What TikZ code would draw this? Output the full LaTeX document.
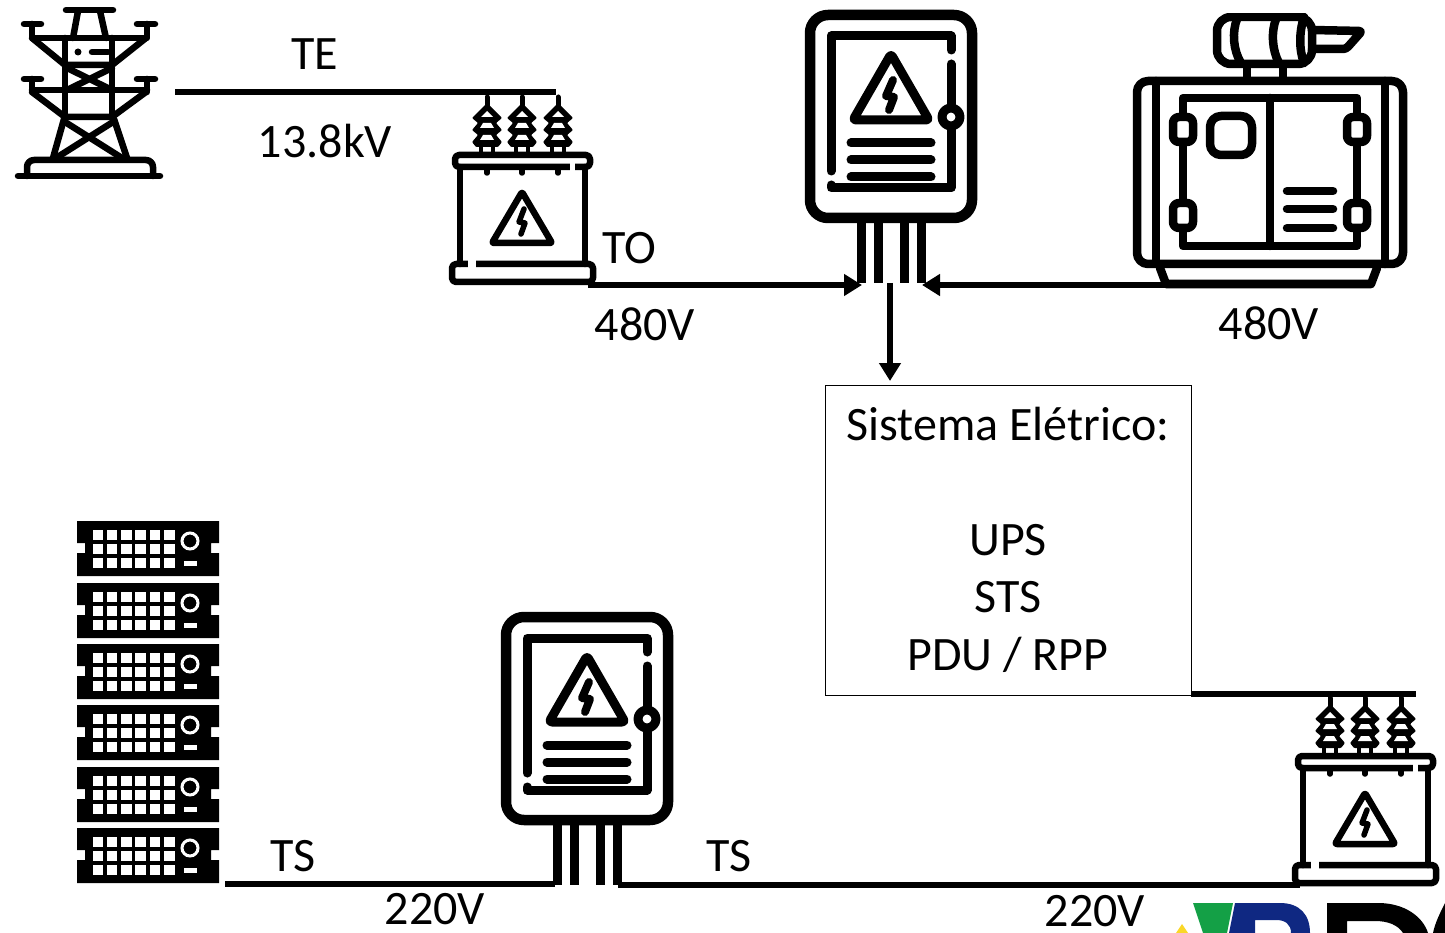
\documentclass[tikz,border=0pt]{standalone}
\usepackage{fontspec}
\setmainfont{Carlito}
\usetikzlibrary{arrows.meta}
\definecolor{logogreen}{RGB}{20,160,70}
\definecolor{logoblue}{RGB}{15,40,130}
\definecolor{logoyellow}{RGB}{250,215,40}
\tikzset{
  x=1pt,y=-1pt,
  lbl/.style={font=\fontsize{48}{56}\selectfont,inner sep=0pt,text=black},
  wire/.style={line width=6.5pt,draw=black},
  arrowwire/.style={line width=6.5pt,draw=black,-{Stealth[length=18pt,width=21pt,inset=0pt]}},
  ink/.style={line width=9pt,draw=black,line cap=round,line join=round},
  thin ink/.style={line width=6.5pt,draw=black,line cap=round,line join=round},
  mid ink/.style={line width=8.5pt,draw=black,line cap=round,line join=round},
  panelicon/.pic={
    \draw[ink,line width=10.5pt,rounded corners=18pt] (810,15) rectangle (972,218);
    \draw[ink] (951,50) -- (951,36) -- (831,36) -- (831,171);
    \draw[ink] (831,185) -- (831,188) -- (951,188) -- (951,64);
    \draw[ink,rounded corners=3pt] (891,54) -- (929,120) -- (853,120) -- cycle;
    \draw[ink,line width=8pt] (893,80) -- (886,96) -- (894,97) -- (889,110);
    \foreach \yy in {143,160,177} \draw[ink] (851,\yy) -- (931,\yy);
    \draw[ink,fill=white] (951,117) circle (9);
    \foreach \xx in {861,878,904,921} \draw[line width=9pt] (\xx,220) -- (\xx,283);
  },
  insulator/.pic={
    \draw[line width=5pt,line cap=round] (0,0) -- (0,12);
    \fill[black,rounded corners=1pt] (0,6) -- (15,21) -- (9,26) -- (15,33) -- (9,38) -- (15,45) -- (11,50) -- (-11,50) -- (-15,45) -- (-9,38) -- (-15,33) -- (-9,26) -- (-15,21) -- cycle;
    \fill[white] (0,14) -- (6,20) -- (-6,20) -- cycle;
    \fill[white] (-4,26) -- (4,26) -- (7,31) -- (-7,31) -- cycle;
    \fill[white] (-4,38) -- (4,38) -- (7,43) -- (-7,43) -- cycle;
    \draw[line width=4.5pt] (-6,49) -- (-6,58) (6,49) -- (6,58);
  },
  xformer/.pic={
    \foreach \xx in {487,522,558} \pic at (\xx,97) {insulator};
    \draw[thin ink,rounded corners=4pt] (455,155) rectangle (590,167);
    \draw[draw=white,line width=8pt] (570,167) -- (575,167);
    \foreach \xx in {487,522,558} \draw[thin ink,line width=5.5pt] (\xx,167) -- (\xx,173);
    \draw[thin ink] (460,167) -- (460,264) (585,167) -- (585,264);
    \draw[thin ink,rounded corners=4pt] (452,264) rectangle (593,282);
    \draw[draw=white,line width=8pt] (468,264) -- (476,264);
    \draw[thin ink,rounded corners=2pt] (522,192) -- (552,243) -- (492,243) -- cycle;
    \draw[thin ink,line width=5.5pt] (524,209) -- (519,222) -- (525,223) -- (521,234);
  },
  rackunit/.pic={
    \fill[black] (77,0) -- (219,0) -- (219,22) -- (211,22) -- (211,32) -- (219,32) -- (219,55) -- (77,55) -- (77,32) -- (85,32) -- (85,22) -- (77,22) -- cycle;
    \foreach \cc in {0,...,5} \foreach \rr in {9,23,37}
      \fill[white] ({92.5+14.3*\cc},\rr) rectangle ++(10.5,9.5);
    \draw[white,line width=3pt] (190,20) circle (8);
    \fill[white] (184,40) rectangle (197,45);
  }
}
\begin{document}
\begin{tikzpicture}
\useasboundingbox (0,0) rectangle (1445,933);
\fill[white] (0,0) rectangle (1445,933);
\clip (0,0) rectangle (1445,933);

% tower
\begin{scope}[thin ink]
  \draw (66,10) -- (113,10);
  \draw (78,11) -- (73,38) (100,11) -- (106,38);
  \draw (24,24) -- (41,24) (32,24) -- (32,38) -- (147,38) -- (147,24) (137,24) -- (155,24);
  \draw (32,38) -- (65,65) -- (112,65) -- (146,38);
  \draw (65,38) -- (65,118) (112,38) -- (112,118);
  \draw (67,68) -- (112,90) (112,68) -- (67,90);
  \draw (24,79) -- (41,79) (32,79) -- (32,92) (147,79) -- (147,92) (137,79) -- (155,79);
  \draw (32,90) -- (147,90);
  \draw (32,92) -- (65,117) -- (112,117) -- (146,92);
  \draw (64,119) -- (53,158) (114,119) -- (127,158);
  \draw (65,122) -- (122,158) (113,122) -- (56,158);
  \draw (92,52) -- (108,52);
  \fill (78,52) circle (3.5);
  \draw[rounded corners=7pt] (27,176) -- (27,160) -- (153,160) -- (153,176);
  \draw (18,176) -- (160,176);
\end{scope}

% transformers
\pic {xformer};
\begin{scope}[shift={(843,601)}] \pic {xformer}; \end{scope}

% panels
\pic {panelicon};
\begin{scope}[shift={(-304,602)}] \pic {panelicon}; \end{scope}

% generator
\begin{scope}[mid ink]
  \draw[rounded corners=11pt] (1137,81) rectangle (1403,264);
  \draw (1156,81) -- (1156,264) (1385,81) -- (1385,264);
  \draw (1183,98) rectangle (1357,246);
  \draw (1270,98) -- (1270,246);
  \draw[fill=white,rounded corners=6pt] (1173,117) rectangle (1193,142);
  \draw[fill=white,rounded corners=6pt] (1347,117) rectangle (1367,142);
  \draw[fill=white,rounded corners=6pt] (1173,203) rectangle (1193,228);
  \draw[fill=white,rounded corners=6pt] (1347,203) rectangle (1367,228);
  \draw[rounded corners=11pt] (1210,116) rectangle (1252,155);
  \foreach \yy in {191,209,228} \draw (1287,\yy) -- (1333,\yy);
  \draw (1160,268) -- (1166,284) -- (1371,284) -- (1377,268);
  \draw[rounded corners=14pt] (1217,17) rectangle (1312,64);
  \draw (1237,19) .. controls (1232,32) and (1233,50) .. (1241,63);
  \draw (1276,19) .. controls (1271,32) and (1272,50) .. (1279,63);
  \draw (1304,17) .. controls (1299,32) and (1299,50) .. (1304,63);
  \draw[rounded corners=3pt] (1312,30) -- (1362,31) -- (1346,49) -- (1312,49);
  \draw (1247,67) -- (1247,78) (1283,67) -- (1283,78);
\end{scope}
\fill[white] (1190,0) rectangle (1340,13);

% servers
\foreach \yy in {521,583,644,705,767,828}
  \pic at (0,\yy) {rackunit};

% box
\node[draw=black,line width=1pt,minimum width=366pt,minimum height=310pt,inner sep=0pt] (sys) at (1008,540) {};
\node[lbl] (sysa) at (1008,424) {Sistema Elétrico:};
\node[lbl] (sysb) at (1008,540) {UPS};
\node[lbl] (sysc) at (1008,597) {STS};
\node[lbl] (sysd) at (1008,655) {PDU / RPP};

% connection points
\coordinate (teA) at (175,92);
\coordinate (teB) at (556,92);
\coordinate (toA) at (588,285);
\coordinate (pnlL) at (862,285);
\coordinate (genA) at (1170,285);
\coordinate (pnlR) at (922,285);
\coordinate (pnlD) at (890,283);
\coordinate (sysT) at (890,381);
\coordinate (sysR) at (1191,694);
\coordinate (xfB) at (1416,694);
\coordinate (srvA) at (225,884);
\coordinate (pnlB) at (555,884);
\coordinate (pnlC) at (618,885);
\coordinate (xfC) at (1300,885);

\draw[wire] (teA) -- (teB);
\draw[arrowwire] (toA) -- (pnlL);
\draw[arrowwire] (genA) -- (pnlR);
\draw[arrowwire] (pnlD) -- (sysT);
\draw[wire] (sysR) -- (xfB);
\draw[wire] (srvA) -- (pnlB);
\draw[wire] (pnlC) -- (xfC);

% labels
\node[lbl] (te) at (315,54) {TE};
\node[lbl] (v138) at (325,141) {13.8kV};
\node[lbl] (to) at (629,248) {TO};
\node[lbl] (v480a) at (645,324) {480V};
\node[lbl] (v480b) at (1269,323) {480V};
\node[lbl] (tsa) at (293,856) {TS};
\node[lbl] (tsb) at (729,856) {TS};
\node[lbl] (v220a) at (435,909) {220V};
\node[lbl] (v220b) at (1095,911) {220V};

% logo
\fill[logoyellow] (1176,933) -- (1182,924) -- (1188,933) -- cycle;
\fill[logogreen] (1193,903) -- (1233,903) -- (1227,933) -- (1203,933) -- cycle;
\fill[logoblue] (1235,903) -- (1280,903) .. controls (1300,903) and (1310,915) .. (1310,933) -- (1291,933) .. controls (1291,924) and (1285,920) .. (1276,920) -- (1255,920) -- (1255,933) -- (1229,933) -- cycle;
\fill[black] (1327,903) -- (1378,903) .. controls (1405,903) and (1423,917) .. (1428,933) -- (1403,933) .. controls (1398,925) and (1388,921) .. (1375,921) -- (1347,921) -- (1347,933) -- (1327,933) -- cycle;
\fill[black] (1445,903) .. controls (1440,913) and (1435,923) .. (1433,933) -- (1445,933) -- cycle;
\end{tikzpicture}
\end{document}
